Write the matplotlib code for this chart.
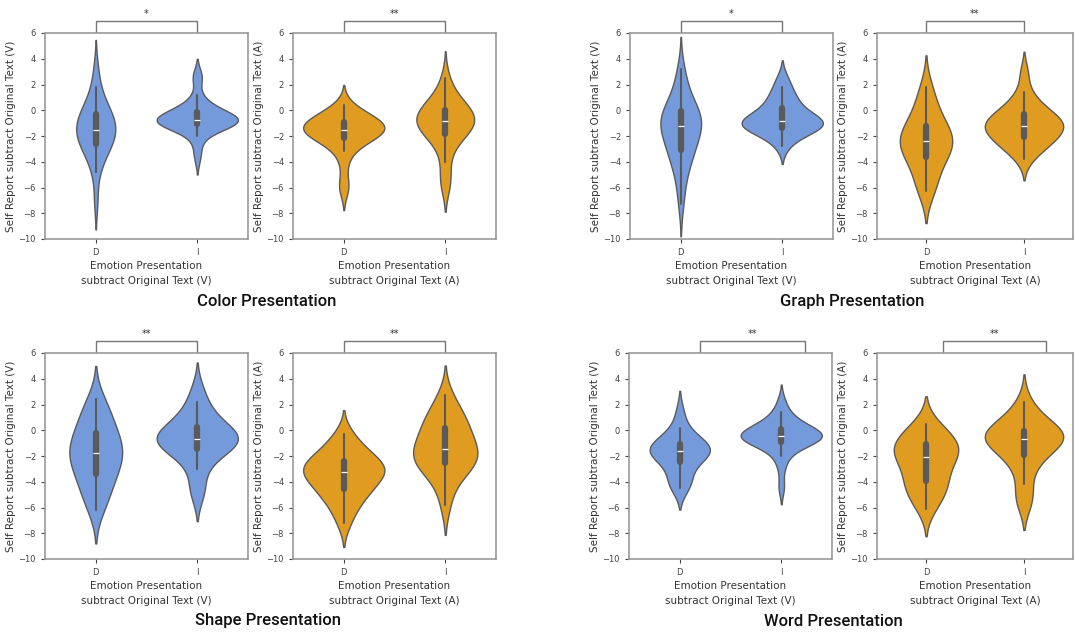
import matplotlib
matplotlib.use("Agg")
import matplotlib.pyplot as plt
import seaborn as sns
import pandas as pd

sns.set_style("ticks")
plt.rcParams['font.family'] = ['DejaVu Sans']

# samples (difference scores), D = direct, I = indirect
color_v_d = [-7.0, -4.8, -4.0, -3.5, -3.1, -2.8, -2.6, -2.4, -2.2, -2.0, -1.8, -1.6, -1.5, -1.3,
             -1.1, -0.9, -0.7, -0.5, -0.3, -0.1, 0.2, 0.6, 1.1, 1.8, 3.2]
color_v_i = [-3.7, -2.8, -2.0, -1.6, -1.4, -1.3, -1.2, -1.1, -1.0, -1.0, -0.9, -0.9, -0.8, -0.8,
             -0.8, -0.7, -0.7, -0.6, -0.6, -0.5, -0.4, -0.3, -0.1, 0.0, 0.2, 0.3, 0.6, 1.2, 2.5, 2.7]
color_a_d = [-6.2, -5.6, -4.1, -3.2, -2.8, -2.5, -2.3, -2.1, -2.0, -1.9, -1.8, -1.7, -1.6, -1.5,
             -1.5, -1.4, -1.3, -1.2, -1.1, -1.0, -0.9, -0.8, -0.7, -0.6, -0.4, -0.2, 0.0, 0.4]
color_a_i = [-5.8, -5.4, -4.0, -3.0, -2.3, -1.9, -1.8, -1.6, -1.4, -1.2, -1.0, -0.9, -0.8, -0.7,
             -0.6, -0.4, -0.2, 0.0, 0.2, 0.4, 0.5, 0.9, 1.5, 2.5]
graph_v_d = [-7.3, -6.0, -5.0, -4.3, -3.8, -3.5, -3.3, -3.0, -2.6, -2.3, -2.0, -1.7, -1.5, -1.3,
             -1.2, -1.1, -0.9, -0.7, -0.5, -0.3, -0.1, 0.0, 0.2, 0.6, 1.0, 1.6, 2.4, 3.2]
graph_v_i = [-2.8, -2.2, -1.8, -1.6, -1.5, -1.4, -1.3, -1.2, -1.1, -1.0, -0.9, -0.8, -0.7, -0.6,
             -0.5, -0.3, 0.0, 0.3, 0.6, 0.9, 1.3, 1.8, 2.5]
graph_a_d = [-6.3, -5.9, -5.1, -4.3, -3.7, -3.4, -3.1, -2.8, -2.5, -2.3, -2.1, -1.8, -1.5, -1.1,
             -0.6, 0.0, 0.9, 1.8]
graph_a_i = [-3.8, -3.2, -2.8, -2.6, -2.5, -2.2, -2.0, -1.8, -1.6, -1.4, -1.3, -1.2, -1.1, -1.0,
             -0.8, -0.6, -0.4, -0.2, 0.0, 0.3, 0.8, 1.4, 2.9]
shape_v_d = [-6.2, -5.5, -4.9, -4.3, -3.8, -3.4, -3.0, -2.6, -2.3, -2.0, -1.8, -1.5, -1.2, -0.9,
             -0.6, -0.2, 0.2, 0.7, 1.3, 1.8, 2.4]
shape_v_i = [-5.0, -4.3, -3.0, -2.3, -1.8, -1.5, -1.3, -1.1, -0.9, -0.8, -0.7, -0.6, -0.5, -0.4,
             -0.2, 0.0, 0.3, 0.7, 1.0, 1.5, 2.2, 3.2]
shape_a_d = [-7.2, -6.3, -5.6, -5.2, -4.9, -4.6, -4.3, -4.0, -3.7, -3.5, -3.3, -3.2, -3.1, -2.9,
             -2.7, -2.5, -2.3, -2.1, -1.8, -1.4, -0.9, -0.3]
shape_a_i = [-5.8, -4.3, -3.5, -3.0, -2.7, -2.5, -2.3, -2.1, -1.9, -1.6, -1.3, -1.0, -0.7, -0.3,
             0.1, 0.5, 0.8, 1.2, 1.8, 2.7]
word_v_d = [-4.5, -4.2, -3.9, -3.3, -2.7, -2.3, -2.1, -1.9, -1.8, -1.6, -1.5, -1.4, -1.3, -1.1,
            -1.0, -0.7, -0.3, 0.2, 1.4]
word_v_i = [-4.4, -2.8, -2.0, -1.5, -1.2, -1.0, -0.9, -0.8, -0.7, -0.6, -0.6, -0.5, -0.5, -0.4,
            -0.3, -0.3, -0.2, -0.1, 0.0, 0.1, 0.3, 0.5, 0.7, 1.0, 1.4, 2.2]
word_a_d = [-6.1, -5.4, -4.9, -4.5, -4.1, -3.8, -3.3, -2.8, -2.4, -2.1, -1.8, -1.6, -1.4, -1.2,
            -1.0, -0.7, -0.3, 0.1, 0.5]
word_a_i = [-5.6, -5.3, -4.2, -3.0, -2.4, -2.0, -1.6, -1.3, -1.0, -0.8, -0.7, -0.6, -0.5, -0.4,
            -0.3, -0.2, 0.0, 0.2, 0.5, 0.9, 1.4, 2.2]

groups = ["D", "I"]
titles = ["Color Presentation", "Graph Presentation", "Shape Presentation", "Word Presentation"]
stars = [["*", "**"], ["*", "**"], ["**", "**"], ["**", "**"]]
panels = [
    [(color_v_d, color_v_i), (color_a_d, color_a_i)],
    [(graph_v_d, graph_v_i), (graph_a_d, graph_a_i)],
    [(shape_v_d, shape_v_i), (shape_a_d, shape_a_i)],
    [(word_v_d, word_v_i), (word_a_d, word_a_i)],
]
# bracket ends (x in category units)
brackets = [[(0, 1), (0, 1)], [(0, 1), (0, 1)], [(0, 1), (0, 1)], [(0.2, 1.23), (0.17, 1.22)]]

W, H = 1075, 634
fig = plt.figure(figsize=(W / 100, H / 100), dpi=100)

# pixel boxes of the axes
lefts = [[45, 293], [630, 877], [45, 293], [629, 877]]
tops = [33, 33, 353, 353]
title_pos = [(267, 302), (852, 302), (268, 621), (833, 621)]

dims = ["V", "A"]
colors = ["cornflowerblue", "orange"]

for p in range(4):
    for k in range(2):
        lx = lefts[p][k]
        wpx = 203 if not (p % 2 == 1 and k == 1) else 196
        ax = fig.add_axes([lx / W, 1 - (tops[p] + 206) / H, wpx / W, 206 / H])
        d_vals, i_vals = panels[p][k]
        df = pd.DataFrame({"group": ["D"] * len(d_vals) + ["I"] * len(i_vals),
                           "value": d_vals + i_vals})
        sns.violinplot(data=df, x="group", y="value", order=groups, color=colors[k],
                       linecolor="#5a5a5a", linewidth=1, ax=ax)
        ax.set_xlim(-0.5, 1.5)
        ax.set_ylim(-10, 6)
        ax.set_yticks(range(-10, 7, 2))
        ax.tick_params(labelsize=6, colors="#444444", length=3, width=0.8)
        for s in ax.spines.values():
            s.set_visible(True)
            s.set_color("#999999")
            s.set_linewidth(1.2)
        ax.set_ylabel("Self Report subtract Original Text (%s)" % dims[k], fontsize=7.5,
                      color="#333333", labelpad=2)
        ax.set_xlabel("Emotion Presentation\nsubtract Original Text (%s)" % dims[k],
                      fontsize=7.5, color="#333333", labelpad=3, linespacing=1.6)
        x0, x1 = brackets[p][k]
        ax.plot([x0, x0, x1, x1], [6.1, 6.95, 6.95, 6.1], color="#777777", lw=1,
                clip_on=False)
        ax.text((x0 + x1) / 2, 7.05, stars[p][k], ha="center", va="bottom", fontsize=7,
                color="#333333")
    tx, ty = title_pos[p]
    fig.text(tx / W, 1 - ty / H, titles[p], ha="center", va="center", fontsize=12,
             fontfamily="Roboto", fontweight="medium", color="#111111")

fig.savefig("out.png", dpi=100, facecolor="white")
